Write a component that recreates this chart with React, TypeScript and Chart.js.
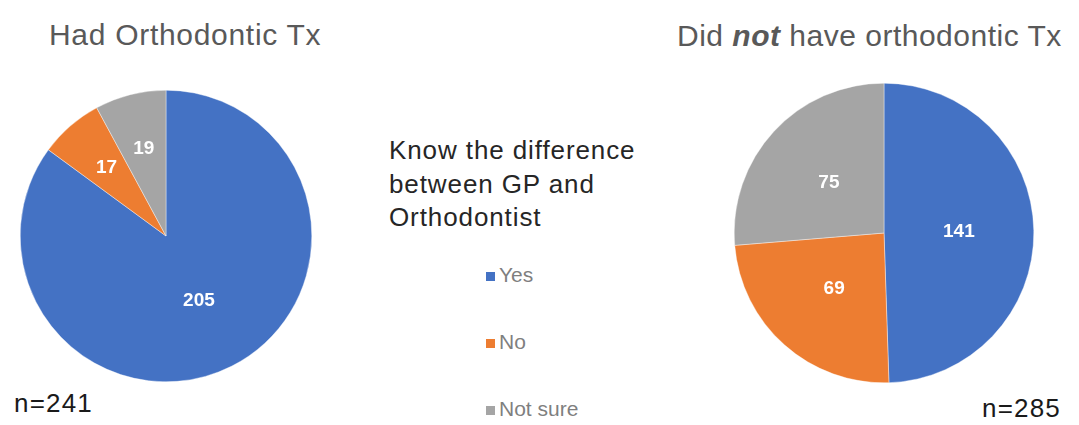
import React, { useEffect, useRef } from "react";
import { Chart, registerables } from "chart.js";

Chart.register(...registerables);

const categories = ["Yes", "No", "Not sure"];
const hadTxValues = [205, 17, 19];
const noTxValues = [141, 69, 75];
const sliceColors = ["#4472C4", "#ED7D31", "#A5A5A5"];
const legendTitleLines = ["Know the difference", "between GP and", "Orthodontist"];
const leftTitle = "Had Orthodontic Tx";
const leftN = "n=241";
const rightN = "n=285";

const FONT = '"Liberation Sans", Arial, sans-serif';

const sliceLabels = {
  id: "sliceLabels",
  afterDatasetsDraw(chart: any) {
    const ctx = chart.ctx;
    const meta = chart.getDatasetMeta(0);
    const data: number[] = chart.data.datasets[0].data;
    const total = data.reduce((a, b) => a + b, 0);
    ctx.save();
    ctx.font = `bold 19px ${FONT}`;
    ctx.fillStyle = "#ffffff";
    ctx.textAlign = "center";
    ctx.textBaseline = "middle";
    meta.data.forEach((arc: any, i: number) => {
      const p = arc.getProps(["x", "y", "startAngle", "endAngle", "outerRadius"], true);
      const mid = (p.startAngle + p.endAngle) / 2;
      const frac = data[i] / total;
      const r = p.outerRadius * (frac < 0.15 ? 0.62 : 0.5);
      ctx.fillText(String(data[i]), p.x + Math.cos(mid) * r, p.y + Math.sin(mid) * r);
    });
    ctx.restore();
  },
};

function PieCanvas({ values, left, top, size }: { values: number[]; left: number; top: number; size: number }) {
  const ref = useRef<HTMLCanvasElement | null>(null);
  useEffect(() => {
    if (!ref.current) return;
    const chart = new Chart(ref.current, {
      type: "pie",
      data: {
        labels: categories,
        datasets: [
          {
            data: values,
            backgroundColor: sliceColors,
            borderColor: "#ffffff",
            borderWidth: 0.4,
          },
        ],
      },
      options: {
        responsive: false,
        maintainAspectRatio: false,
        animation: false,
        devicePixelRatio: 1,
        layout: { padding: 0 },
        plugins: {
          legend: { display: false },
          tooltip: { enabled: false },
          title: { display: false },
        },
      },
      plugins: [sliceLabels],
    });
    return () => chart.destroy();
  }, [values]);
  return (
    <canvas
      ref={ref}
      width={size}
      height={size}
      style={{ position: "absolute", left, top, width: size, height: size }}
    />
  );
}

export default function App() {
  const legendBaselines = [283, 350, 417];
  return (
    <div
      style={{
        position: "absolute",
        left: 0,
        top: 0,
        width: 1079,
        height: 425,
        background: "#ffffff",
        overflow: "hidden",
        fontFamily: FONT,
      }}
    >
      <div
        style={{
          position: "absolute",
          left: 49,
          top: 20,
          fontSize: 30,
          lineHeight: "30px",
          color: "#595959",
          letterSpacing: 0.7,
          whiteSpace: "pre",
        }}
      >
        {leftTitle}
      </div>
      <div
        style={{
          position: "absolute",
          left: 677,
          top: 21,
          fontSize: 30,
          lineHeight: "30px",
          color: "#595959",
          letterSpacing: 0.5,
          whiteSpace: "pre",
        }}
      >
        {"Did "}
        <b>
          <i>not</i>
        </b>
        {" have orthodontic Tx"}
      </div>

      <PieCanvas values={hadTxValues} left={20} top={90} size={292} />
      <PieCanvas values={noTxValues} left={734} top={83} size={300} />

      <div
        style={{
          position: "absolute",
          left: 389,
          top: 134,
          fontSize: 26,
          lineHeight: "33.5px",
          color: "#262626",
          letterSpacing: 0.9,
          whiteSpace: "pre",
        }}
      >
        {legendTitleLines.join("\n")}
      </div>

      {categories.map((c, i) => (
        <React.Fragment key={c}>
          <div
            style={{
              position: "absolute",
              left: 486,
              top: legendBaselines[i] - 11,
              width: 9,
              height: 9,
              background: sliceColors[i],
            }}
          />
          <div
            style={{
              position: "absolute",
              left: 499,
              top: legendBaselines[i] - 19,
              fontSize: 21,
              lineHeight: "21px",
              color: "#7f7f7f",
              whiteSpace: "pre",
            }}
          >
            {c}
          </div>
        </React.Fragment>
      ))}

      <div
        style={{
          position: "absolute",
          left: 14,
          top: 412 - 22,
          fontSize: 26,
          lineHeight: "26px",
          color: "#1a1a1a",
          letterSpacing: 1.2,
          whiteSpace: "pre",
        }}
      >
        {leftN}
      </div>
      <div
        style={{
          position: "absolute",
          left: 982,
          top: 417 - 22,
          fontSize: 26,
          lineHeight: "26px",
          color: "#1a1a1a",
          letterSpacing: 1.2,
          whiteSpace: "pre",
        }}
      >
        {rightN}
      </div>
    </div>
  );
}
